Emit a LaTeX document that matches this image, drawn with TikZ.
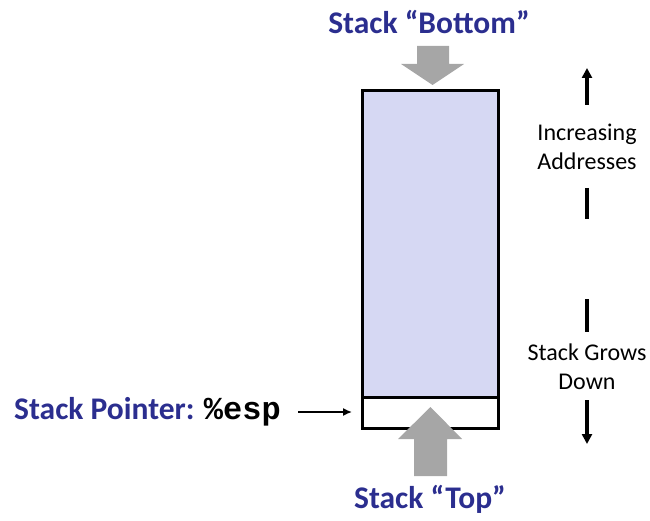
\documentclass[tikz,border=0pt]{standalone}
\usepackage{fontspec}
\setmainfont{Carlito}
\setmonofont{Liberation Mono}
\usetikzlibrary{arrows.meta}
\definecolor{titleblue}{HTML}{2B2E8F}
\definecolor{stackfill}{HTML}{D6D8F3}
\definecolor{bigarrow}{HTML}{A6A6A6}
\tikzset{
  heading/.style={font=\fontsize{31.5}{34}\selectfont\bfseries, text=titleblue, inner sep=0pt},
  sidetext/.style={font=\fontsize{24}{29}\selectfont, align=center, inner sep=0pt},
  sideline/.style={line width=3.2pt},
  fatarrow/.style={fill=bigarrow, draw=none},
}
\begin{document}
\begin{tikzpicture}[x=1pt,y=-1pt]
  \useasboundingbox (0,0) rectangle (650,521);

  % stack body and the free slot at its top
  \path[fill=stackfill] (362,91) rectangle (498,397);
  \draw[line width=3pt] (362,91) rectangle (498,428);
  \draw[line width=3pt] (362,397) -- (498,397);
  \coordinate (slot) at (352,412);

  % wide grey arrows
  \fill[fatarrow] (417,46) -- (449,46) -- (449,64) -- (464,64) -- (432.5,85)
    -- (401,64) -- (417,64) -- cycle;
  \fill[fatarrow] (414,476) -- (447,476) -- (447,439) -- (462,439) -- (430.5,407)
    -- (398,439) -- (414,439) -- cycle;

  % labels
  \node[heading] (bottom) at (429,22) {Stack “Bottom”};
  \node[heading] (top) at (430,499) {Stack “Top”};
  \node[anchor=west, inner sep=0pt] (sp) at (14,412)
    {\fontsize{31.5}{34}\selectfont\bfseries\color{titleblue}Stack Pointer: \color{black}\fontsize{32}{34}\selectfont\ttfamily\bfseries \%esp};
  \coordinate (spout) at (298,412);
  \draw[line width=1.5pt, -{Latex[length=9pt,width=8pt]}] (spout) -- (slot);

  % address direction
  \node[sidetext] (inc) at (587,147) {Increasing\\Addresses};
  \node[sidetext] (grow) at (587,367) {Stack Grows\\Down};
  \coordinate (upA) at (587,105);
  \coordinate (upB) at (587,68);
  \coordinate (midA) at (587,188);
  \coordinate (midB) at (587,219);
  \coordinate (midC) at (587,299);
  \coordinate (midD) at (587,332);
  \coordinate (dnA) at (587,400);
  \coordinate (dnB) at (587,444);
  \draw[sideline, -{Triangle[length=10pt,width=10pt]}] (upA) -- (upB);
  \draw[sideline] (midA) -- (midB);
  \draw[sideline] (midC) -- (midD);
  \draw[sideline, -{Triangle[length=10pt,width=10pt]}] (dnA) -- (dnB);
\end{tikzpicture}
\end{document}
